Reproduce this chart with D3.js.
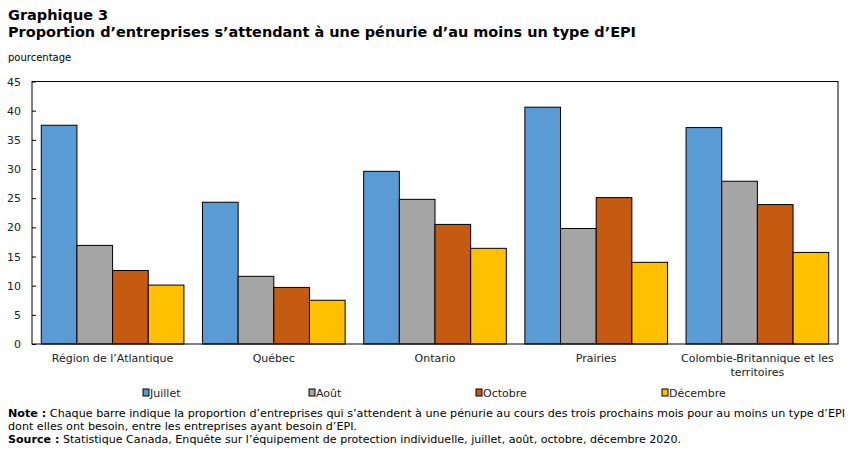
<!DOCTYPE html>
<html>
<head>
<meta charset="utf-8">
<script src="https://cdn.jsdelivr.net/npm/d3@7"></script>
<style>
	body { margin: 0; background: #fff; }
	svg text { font-family: "DejaVu Sans", Verdana, sans-serif; }
</style>
</head>
<body>
<div class="chart"></div>
<script>

var regions = ["Région de l’Atlantique", "Québec", "Ontario", "Prairies", "Colombie-Britannique et les territoires"];
var months = ["Juillet", "Août", "Octobre", "Décembre"];
var juillet = [37.5, 24.3, 29.6, 40.6, 37.1];
var aout = [16.9, 11.6, 24.8, 19.8, 27.9];
var octobre = [12.6, 9.7, 20.5, 25.1, 23.9];
var decembre = [10.1, 7.5, 16.4, 14.0, 15.7];
var yTicks = [0, 5, 10, 15, 20, 25, 30, 35, 40, 45];

var colors = ["#5B9BD5", "#A5A5A5", "#C55A11", "#FFC000"];
var series = [juillet, aout, octobre, decembre];

var w = 852;
var h = 454;
var plot = {left: 32, right: 838, top: 81.5, bottom: 344};

var svg = d3.select(".chart")
			.append("svg")
			.attr("width", w)
			.attr("height", h);

/********************************************************************
* Titles
*********************************************************************/
svg.append("text")
	.attr("x", 8).attr("y", 20)
	.attr("font-size", "14.5px").attr("font-weight", "bold")
	.text("Graphique 3");

svg.append("text")
	.attr("x", 8).attr("y", 37)
	.attr("font-size", "14.5px").attr("font-weight", "bold")
	.attr("textLength", 628)
	.attr("lengthAdjust", "spacingAndGlyphs")
	.text("Proportion d’entreprises s’attendant à une pénurie d’au moins un type d’EPI");

svg.append("text")
	.attr("x", 8).attr("y", 61)
	.attr("font-size", "10px")
	.text("pourcentage");

/********************************************************************
* Scales
*********************************************************************/
var x0 = d3.scaleBand()
			.domain(regions)
			.range([plot.left, plot.right])
			.paddingInner(0.115)
			.paddingOuter(0.0575);

var x1 = d3.scaleBand()
			.domain(months)
			.range([0, x0.bandwidth()]);

var y = d3.scaleLinear()
			.domain([0, 45])
			.range([plot.bottom, plot.top]);

/********************************************************************
* Bars
*********************************************************************/
var groups = svg.selectAll("g.region")
	.data(regions)
	.enter()
	.append("g")
	.attr("class", "region")
	.attr("transform", function(d){ return "translate(" + x0(d) + ",0)"; });

groups.selectAll("rect")
	.data(function(d, i){
		return months.map(function(m, j){ return {month: m, value: series[j][i], k: j}; });
	})
	.enter()
	.append("rect")
	.attr("x", function(d){ return x1(d.month); })
	.attr("y", function(d){ return y(d.value); })
	.attr("width", x1.bandwidth())
	.attr("height", function(d){ return y(0) - y(d.value); })
	.attr("fill", function(d){ return colors[d.k]; })
	.attr("stroke", "#000")
	.attr("stroke-width", 1);

/********************************************************************
* Axes and frame
*********************************************************************/
var yAxis = d3.axisLeft(y)
	.tickValues(yTicks)
	.tickSize(-4)
	.tickPadding(11);

var ya = svg.append("g")
	.attr("transform", "translate(" + plot.left + ",0)")
	.call(yAxis);
ya.select(".domain").remove();
ya.selectAll("text").attr("font-size", "11px").attr("fill", "#222")
	.style("font-family", "'DejaVu Sans', Verdana, sans-serif");
ya.selectAll("line").attr("stroke", "#000");

svg.append("rect")
	.attr("x", plot.left).attr("y", plot.top)
	.attr("width", plot.right - plot.left)
	.attr("height", plot.bottom - plot.top)
	.attr("fill", "none")
	.attr("stroke", "#000")
	.attr("stroke-width", 1);

// category labels, the last one wraps on two lines
var catLines = [["Région de l’Atlantique"], ["Québec"], ["Ontario"], ["Prairies"], ["Colombie-Britannique et les", "territoires"]];
svg.selectAll("text.cat")
	.data(regions)
	.enter()
	.append("text")
	.attr("class", "cat")
	.attr("text-anchor", "middle")
	.attr("font-size", "11px")
	.attr("fill", "#222")
	.attr("y", 362)
	.each(function(d, i){
		var t = d3.select(this);
		catLines[i].forEach(function(line, k){
			t.append("tspan")
				.attr("x", x0(d) + x0.bandwidth() / 2)
				.attr("dy", k == 0 ? 0 : 14)
				.text(line);
		});
	});

/********************************************************************
* Legend
*********************************************************************/
var legendX = [143, 309, 476, 662];
var leg = svg.selectAll("g.legend")
	.data(months)
	.enter()
	.append("g")
	.attr("class", "legend")
	.attr("transform", function(d, i){ return "translate(" + legendX[i] + ",389)"; });

leg.append("rect")
	.attr("width", 6).attr("height", 7)
	.attr("fill", function(d, i){ return colors[i]; })
	.attr("stroke", "#000");

leg.append("text")
	.attr("x", 7).attr("y", 8)
	.attr("font-size", "11px")
	.attr("fill", "#222")
	.text(function(d){ return d; });

/********************************************************************
* Notes
*********************************************************************/
var notes = [
	{b: "Note :", t: " Chaque barre indique la proportion d’entreprises qui s’attendent à une pénurie au cours des trois prochains mois pour au moins un type d’EPI", y: 417, len: 837},
	{b: "", t: "dont elles ont besoin, entre les entreprises ayant besoin d’EPI.", y: 430, len: 349},
	{b: "Source :", t: " Statistique Canada, Enquête sur l’équipement de protection individuelle, juillet, août, octobre, décembre 2020.", y: 443, len: 673}
];

notes.forEach(function(n){
	var t = svg.append("text")
		.attr("x", 8).attr("y", n.y)
		.attr("font-size", "11px")
		.attr("textLength", n.len)
		.attr("lengthAdjust", "spacingAndGlyphs");
	if (n.b) t.append("tspan").attr("font-weight", "bold").text(n.b);
	t.append("tspan").text(n.t);
});

</script>
</body>
</html>
